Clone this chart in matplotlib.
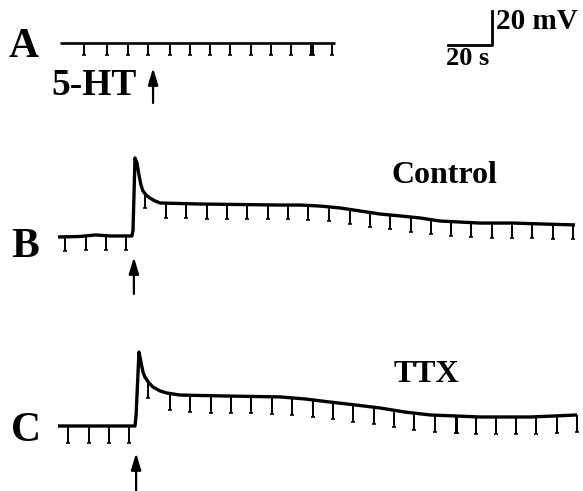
import numpy as np
import matplotlib
matplotlib.use('Agg')
import matplotlib.pyplot as plt

plt.rcParams['font.family'] = ['Liberation Serif', 'DejaVu Serif']
plt.rcParams['font.weight'] = 'bold'

# membrane potential traces: time (s from start of trace), potential (mV rel. to rest)
a_t = [0, 125]
a_v = [0, 0]
a_pulses = [10.9, 21.4, 30.9, 40.0, 50.0, 59.1, 68.2, 77.3, 86.8, 95.9, 105.0, 114.1, 115.0, 123.6]

b_t = [0, 10, 17, 24, 33.6, 34.1, 35.0, 35.9, 36.8, 37.7, 38.6, 40.0, 41.8, 44.1, 46.4, 64.5,
       100.9, 110, 119.1, 128.2, 137.3, 146.4, 155.5, 164.5, 173.6, 182.7, 191.8, 206.8, 221.4, 235]
b_v = [0, 0.3, 1.2, 0.6, 0.6, 4, 46.5, 43.5, 36.5, 30.6, 27.1, 24.7, 22.9, 21.2, 20, 19.4,
       18.8, 18.8, 18.2, 17.1, 15.3, 13.5, 12.4, 11.2, 9.4, 8.8, 8.2, 8.2, 7.6, 7.1]
b_pulses = [3.2, 12.7, 21.8, 30.9, 39.5, 49.1, 58.2, 67.7, 76.8, 85.9, 95.5, 104.5, 113.6,
            123.2, 132.7, 141.8, 150.9, 160.5, 169.5, 178.6, 187.7, 197.3, 206.4, 215.5, 225.0, 234.1]
b_depth = 8.5

c_t = [0, 35, 35.5, 36.8, 37.7, 38.6, 39.5, 41.4, 43.2, 46.4, 49.5, 55.5, 78.2, 100.9, 112.3,
       123.6, 135, 146.4, 157.7, 169.1, 180.5, 191.8, 214.5, 225.9, 235.9]
c_v = [0, 0, 6.5, 43.5, 37.6, 31.8, 28.8, 25.3, 22.9, 20.6, 19.4, 18.2, 17.6, 17.1, 15.9,
       14.1, 12.4, 10.6, 8.2, 6.5, 5.9, 5.3, 5.3, 5.9, 6.5]
c_pulses = [4.5, 14.1, 23.2, 32.3, 40.9, 50.9, 60.0, 69.5, 78.6, 87.7, 97.3, 106.4, 115.9,
            125.0, 134.1, 143.6, 152.7, 161.8, 171.4, 180.9, 181.5, 190.0, 199.1, 208.2, 217.3, 226.8, 236.0]
c_depth = 10

a_depth = 7
drug_time = {'A': 42.3, 'B': 34.5, 'C': 35.5}

fig = plt.figure(figsize=(5.83, 4.91), dpi=100)
ax = fig.add_axes([0, 0, 1, 1])
# 2.2 px per s, 1.7 px per mV
ax.set_xlim(0, 583 / 2.2)
ax.set_ylim(-491 / 1.7, 0)
ax.axis('off')

def px(x, y):
    return x / 583, 1 - y / 491

def trace(t, v, pulses, depth, x0, y0, lw):
    t = np.array(t) + x0
    v = np.array(v) + y0
    ax.plot(t, v, color='k', lw=lw, solid_capstyle='butt', solid_joinstyle='round')
    pt = np.array(pulses) + x0
    top = np.interp(pt, t, v)
    ax.vlines(pt, top - depth, top, color='k', lw=1.4)
    ax.plot(pt, top - depth, ls='none', marker='_', ms=3, mew=1.2, color='k')

trace(a_t, a_v, a_pulses, a_depth, 60 / 2.2, -43 / 1.7, 1.9)
trace(b_t, b_v, b_pulses, b_depth, 58 / 2.2, -237 / 1.7, 2.4)
trace(c_t, c_v, c_pulses, c_depth, 58 / 2.2, -426 / 1.7, 2.4)

# arrows for 5-HT application
arrow = dict(arrowstyle='-|>,head_length=1.0,head_width=0.3', lw=1.6, color='k', shrinkA=0, shrinkB=0)
ax.annotate('', xy=(60 / 2.2 + drug_time['A'], -68 / 1.7), xytext=(60 / 2.2 + drug_time['A'], -103 / 1.7), arrowprops=arrow)
ax.annotate('', xy=(58 / 2.2 + drug_time['B'], -257 / 1.7), xytext=(58 / 2.2 + drug_time['B'], -294 / 1.7), arrowprops=arrow)
ax.annotate('', xy=(58 / 2.2 + drug_time['C'], -453 / 1.7), xytext=(58 / 2.2 + drug_time['C'], -491 / 1.7), arrowprops=arrow)

# scale bar 20 s / 20 mV
sx, sy = 448 / 2.2, -45 / 1.7
ax.plot([sx, sx + 20, sx + 20], [sy, sy, sy + 20], color='k', lw=2.0)

fig.text(*px(9, 57), 'A', fontsize=30, fontweight='bold', va='baseline', ha='left')
fig.text(*px(11, 257), 'B', fontsize=30, fontweight='bold', va='baseline', ha='left')
fig.text(*px(11, 441), 'C', fontsize=30, fontweight='bold', va='baseline', ha='left')
fig.text(*px(51, 95), '5-HT', fontsize=27, fontweight='bold', va='baseline', ha='left')
fig.text(*px(444, 183), 'Control', fontsize=23, fontweight='bold', va='baseline', ha='center')
fig.text(*px(426, 382), 'TTX', fontsize=23, fontweight='bold', va='baseline', ha='center')
fig.text(*px(496, 29), '20 mV', fontsize=21, fontweight='bold', va='baseline', ha='left')
fig.text(*px(446, 65), '20 s', fontsize=19, fontweight='bold', va='baseline', ha='left')

fig.savefig('out.png', dpi=100)
